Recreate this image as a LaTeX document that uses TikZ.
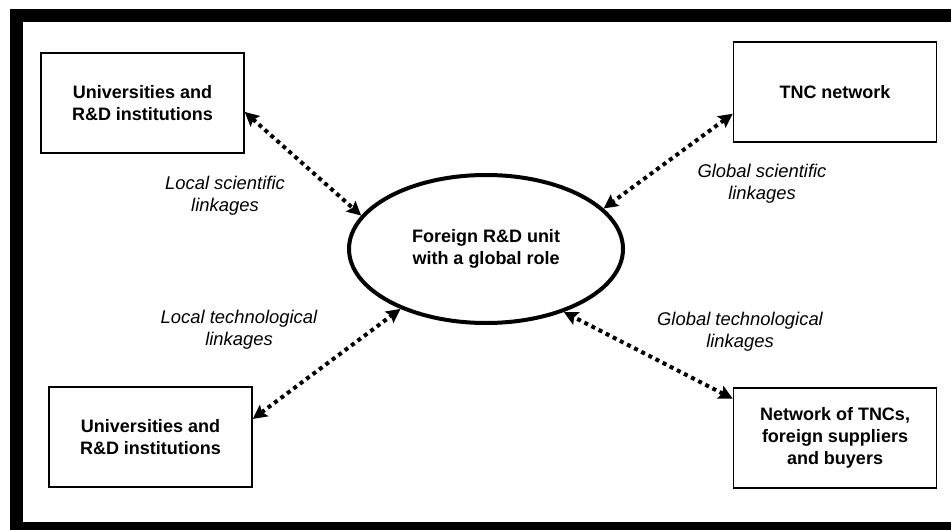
\documentclass[tikz,border=0pt]{standalone}
\usepackage{fontspec}
\setmainfont{Liberation Sans}
\usetikzlibrary{arrows.meta,shapes.geometric}

\begin{document}
\begin{tikzpicture}[x=0.5pt,y=-0.5pt]
  \tikzstyle{box} = [draw, line width=0.75pt, rectangle, minimum width=101.5pt, minimum height=50pt, inner sep=0pt, align=center, font={\fontsize{9}{11}\selectfont\bfseries}]
  \tikzstyle{unit} = [draw, line width=2pt, ellipse, minimum width=137pt, minimum height=74pt, inner sep=0pt, align=center, font={\fontsize{9}{11}\selectfont\bfseries}]
  \tikzstyle{linkEdge} = [line width=2pt, dash pattern=on 2pt off 2pt, {Stealth[length=7pt,width=7pt,inset=1.2pt]}-{Stealth[length=7pt,width=7pt,inset=1.2pt]}];
  \tikzstyle{linkLabel} = [align=center, font={\fontsize{9.2}{11}\selectfont\itshape}];

  \clip (0,0) rectangle (951,529);
  \draw[line width=6.5pt] (16.5,15.5) rectangle (970,528.5);

  \node[unit](frd) at (486,249) {Foreign R\&D unit\\with a global role};
  \node[box](u1) at (142.5,103) {Universities and\\R\&D institutions};
  \node[box](tnc) at (835,92) {TNC network};
  \node[box](u2) at (150.5,437) {Universities and\\R\&D institutions};
  \node[box](net) at (835,438) {Network of TNCs,\\foreign suppliers\\and buyers};

  \node[linkLabel](ls) at (225,196) {Local scientific\\linkages};
  \node[linkLabel](gs) at (762,184) {Global scientific\\linkages};
  \node[linkLabel](lt) at (239,330) {Local technological\\linkages};
  \node[linkLabel](gt) at (740,332) {Global technological\\linkages};

  \path[linkEdge]
  (u1.-5) edge (frd.165)
  (tnc.192) edge (frd.19)
  (u2.10.5) edge (frd.215)
  (net.159) edge (frd.-39);
\end{tikzpicture}
\end{document}
